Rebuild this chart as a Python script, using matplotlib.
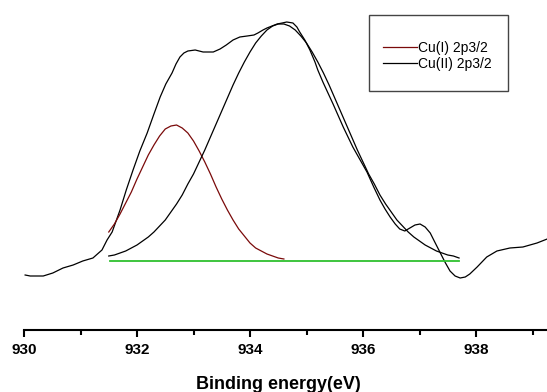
import matplotlib
matplotlib.use('Agg')
import matplotlib.pyplot as plt
from matplotlib.patches import Rectangle

plt.rcParams['font.family'] = ['Liberation Sans', 'DejaVu Sans']

# measured Cu 2p3/2 spectrum (binding energy in eV, intensity in a.u.)
raw_ev = [930.02, 930.11, 930.34, 930.51, 930.69, 930.87, 931.04, 931.22, 931.38, 931.47,
          931.56, 931.70, 931.81, 931.93, 932.05, 932.18, 932.30, 932.41, 932.51, 932.62,
          932.69, 932.76, 932.83, 932.90, 933.03, 933.17, 933.35, 933.47, 933.58, 933.70,
          933.82, 933.95, 934.07, 934.14, 934.23, 934.30, 934.39, 934.48, 934.57, 934.65,
          934.76, 934.83, 934.88, 934.97, 935.06, 935.15, 935.20, 935.29, 935.47, 935.65,
          935.82, 935.95, 936.07, 936.19, 936.30, 936.39, 936.48, 936.57, 936.65, 936.74,
          936.83, 936.92, 937.01, 937.10, 937.19, 937.27, 937.36, 937.45, 937.54, 937.63,
          937.72, 937.81, 937.89, 938.02, 938.19, 938.37, 938.60, 938.83, 939.08, 939.26]
raw_int = [25, 24, 24, 27, 32, 35, 39, 42, 50, 60,
           68, 90, 110, 130, 149, 167, 186, 203, 216, 227,
           236, 243, 247, 249, 250, 248, 248, 251, 255, 260,
           263, 264, 265, 267, 270, 272, 274, 276, 277, 278,
           277, 273, 268, 260, 250, 238, 230, 218, 196, 173,
           153, 140, 128, 113, 100, 91, 83, 76, 71, 69,
           72, 75, 76, 73, 67, 58, 48, 38, 29, 24,
           22, 23, 26, 33, 43, 49, 52, 53, 57, 61]

# fitted Cu(I) component
cu1_ev = [931.5, 931.6, 931.7, 931.8, 931.9, 932.0, 932.1, 932.2, 932.3, 932.4,
          932.5, 932.6, 932.7, 932.8, 932.9, 933.0, 933.1, 933.2, 933.3, 933.4,
          933.5, 933.6, 933.7, 933.8, 933.9, 934.0, 934.1, 934.2, 934.3, 934.4,
          934.5, 934.6]
cu1_int = [68, 76, 86, 97, 108, 121, 133, 145, 155, 164,
           171, 174, 175, 172, 167, 159, 149, 138, 126, 113,
           101, 90, 80, 71, 64, 57, 52, 49, 46, 44,
           42, 41]

# fitted Cu(II) component
cu2_ev = [931.5, 931.6, 931.7, 931.8, 931.9, 932.0, 932.1, 932.2, 932.3, 932.4,
          932.5, 932.6, 932.7, 932.8, 932.9, 933.0, 933.1, 933.2, 933.3, 933.4,
          933.5, 933.6, 933.7, 933.8, 933.9, 934.0, 934.1, 934.2, 934.3, 934.4,
          934.5, 934.6, 934.7, 934.8, 934.9, 935.0, 935.1, 935.2, 935.3, 935.4,
          935.5, 935.6, 935.7, 935.8, 935.9, 936.0, 936.1, 936.2, 936.3, 936.4,
          936.5, 936.6, 936.7, 936.8, 936.9, 937.0, 937.1, 937.2, 937.3, 937.4,
          937.5, 937.6, 937.7]
cu2_int = [44, 45, 47, 49, 52, 55, 59, 63, 68, 74,
           80, 88, 96, 105, 116, 126, 138, 150, 163, 176,
           189, 202, 215, 227, 238, 248, 257, 264, 270, 274,
           276, 276, 274, 270, 264, 257, 248, 238, 227, 215,
           202, 189, 176, 163, 150, 138, 126, 116, 105, 96,
           88, 80, 74, 68, 63, 59, 55, 52, 49, 47,
           45, 44, 42]

# background
bg_ev = [931.52, 937.70]
bg_int = [39, 39]

W, H = 547, 392
fig = plt.figure(figsize=(W / 100, H / 100), dpi=100)
ax = fig.add_axes([24 / W, 62 / H, 523 / W, 330 / H])

ax.plot(raw_ev, raw_int, color='black', lw=0.9)
l1, = ax.plot(cu1_ev, cu1_int, color='#7a0a0a', lw=0.9, label='Cu(I) 2p3/2')
l2, = ax.plot(cu2_ev, cu2_int, color='black', lw=0.9, label='Cu(II) 2p3/2')
ax.plot(bg_ev, bg_int, color='#2fc02f', lw=1.3)

ax.set_xlim(930, 930 + 523 / 56.5)
ax.set_ylim(-30, 300)

for s in ['left', 'right', 'top']:
    ax.spines[s].set_visible(False)
ax.spines['bottom'].set_linewidth(1.5)
ax.set_yticks([])

ax.set_xticks([930, 932, 934, 936, 938])
ax.set_xticks([931, 933, 935, 937, 939], minor=True)
ax.tick_params(axis='x', which='major', length=5, width=1.5, pad=4,
               labelsize=11)
ax.tick_params(axis='x', which='minor', length=3.3, width=1.5)
for lab in ax.get_xticklabels():
    lab.set_fontweight('bold')

ax.set_xlabel('Binding energy(eV)', fontsize=13, fontweight='bold')
ax.xaxis.set_label_coords(0.486, -0.14)

# legend box
fig.add_artist(Rectangle((369 / W, 1 - 91 / H), 139 / W, 76 / H,
                         transform=fig.transFigure, fill=False,
                         edgecolor='#444444', lw=1.0))
ax.legend(handles=[l1, l2], loc='upper left', frameon=False,
          bbox_to_anchor=(383 / W, 1 - 41 / H), bbox_transform=fig.transFigure,
          fontsize=10, handlelength=2.45, handletextpad=0.05,
          borderpad=0, borderaxespad=0, labelspacing=0.15)

fig.savefig('out.png', dpi=100)
